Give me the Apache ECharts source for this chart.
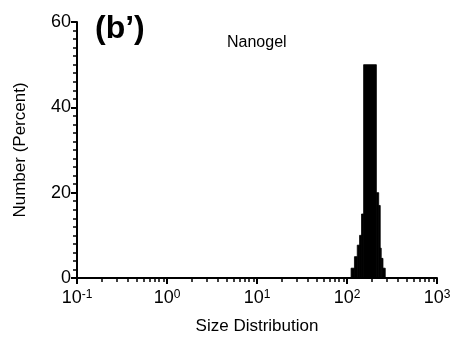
<!DOCTYPE html>
<html>
<head>
<meta charset="utf-8">
<script src="https://cdn.jsdelivr.net/npm/echarts@6/dist/echarts.min.js"></script>
<style>
  html, body { margin: 0; padding: 0; background: #fff; }
  #sizeChart { width: 454px; height: 340px; }
</style>
</head>
<body>
<div id="sizeChart"></div>
<script>
// histogram bins (nm) and number percent
var binStart = [111, 121, 130, 138, 145, 153, 212, 225, 234, 240, 251];
var binEnd   = [121, 130, 138, 145, 153, 212, 225, 234, 240, 251, 266];
var percent  = [2.3, 5, 7.7, 10, 15, 50, 20, 17, 7, 4.6, 2.3];
var xTicks = [0.1, 1, 10, 100, 1000];
var yTicks = [0, 20, 40, 60];

var myChart = echarts.init(document.getElementById('sizeChart'));

var histData = binStart.map(function (s, i) {
  return [s, binEnd[i], percent[i]];
});

var font = 'Liberation Sans, Arial, sans-serif';

var option = {
  animation: false,
  grid: { left: 77, right: 17, top: 22, bottom: 60 },
  title: [
    {
      text: "(b\u2019)",
      left: 90, top: 8,
      textStyle: { fontFamily: font, fontWeight: 'bold', fontSize: 32, color: '#000' }
    },
    {
      text: 'Nanogel',
      left: 222, top: 30,
      textStyle: { fontFamily: font, fontWeight: 'normal', fontSize: 16, color: '#000' }
    }
  ],
  xAxis: {
    type: 'log',
    logBase: 10,
    min: xTicks[0],
    max: xTicks[xTicks.length - 1],
    name: 'Size Distribution',
    nameLocation: 'middle',
    nameGap: 40,
    nameTextStyle: { fontFamily: font, fontSize: 17, color: '#000' },
    axisLine: { lineStyle: { color: '#000', width: 2 } },
    axisTick: { length: 6, lineStyle: { color: '#000', width: 2 } },
    minorTick: { show: true, splitNumber: 10, length: 4, lineStyle: { color: '#000', width: 1.5 } },
    splitLine: { show: false },
    axisLabel: {
      margin: 11,
      formatter: function (v) {
        return '{b|10}{s|' + Math.round(Math.log10(v)) + '}';
      },
      rich: {
        b: { fontFamily: font, fontSize: 18, color: '#000' },
        s: { fontFamily: font, fontSize: 12, color: '#000', verticalAlign: 'top', padding: [0, 0, 5, 0] }
      }
    }
  },
  yAxis: {
    type: 'value',
    min: yTicks[0],
    max: yTicks[yTicks.length - 1],
    interval: 20,
    name: 'Number (Percent)',
    nameLocation: 'middle',
    nameGap: 48,
    nameTextStyle: { fontFamily: font, fontSize: 17, color: '#000' },
    axisLine: { show: true, lineStyle: { color: '#000', width: 2 } },
    axisTick: { show: true, length: 6, lineStyle: { color: '#000', width: 2 } },
    minorTick: { show: true, splitNumber: 10, length: 4, lineStyle: { color: '#000', width: 1.5 } },
    splitLine: { show: false },
    axisLabel: { margin: 6, fontFamily: font, fontSize: 18, color: '#000' }
  },
  series: [
    {
      type: 'custom',
      data: histData,
      encode: { x: [0, 1], y: 2 },
      renderItem: function (params, api) {
        var p0 = api.coord([api.value(0), api.value(2)]);
        var p1 = api.coord([api.value(1), 0]);
        return {
          type: 'rect',
          shape: { x: p0[0], y: p0[1], width: p1[0] - p0[0], height: p1[1] - p0[1] },
          style: { fill: '#000', stroke: '#000', lineWidth: 0.8 }
        };
      }
    }
  ]
};

myChart.setOption(option);
</script>
</body>
</html>
